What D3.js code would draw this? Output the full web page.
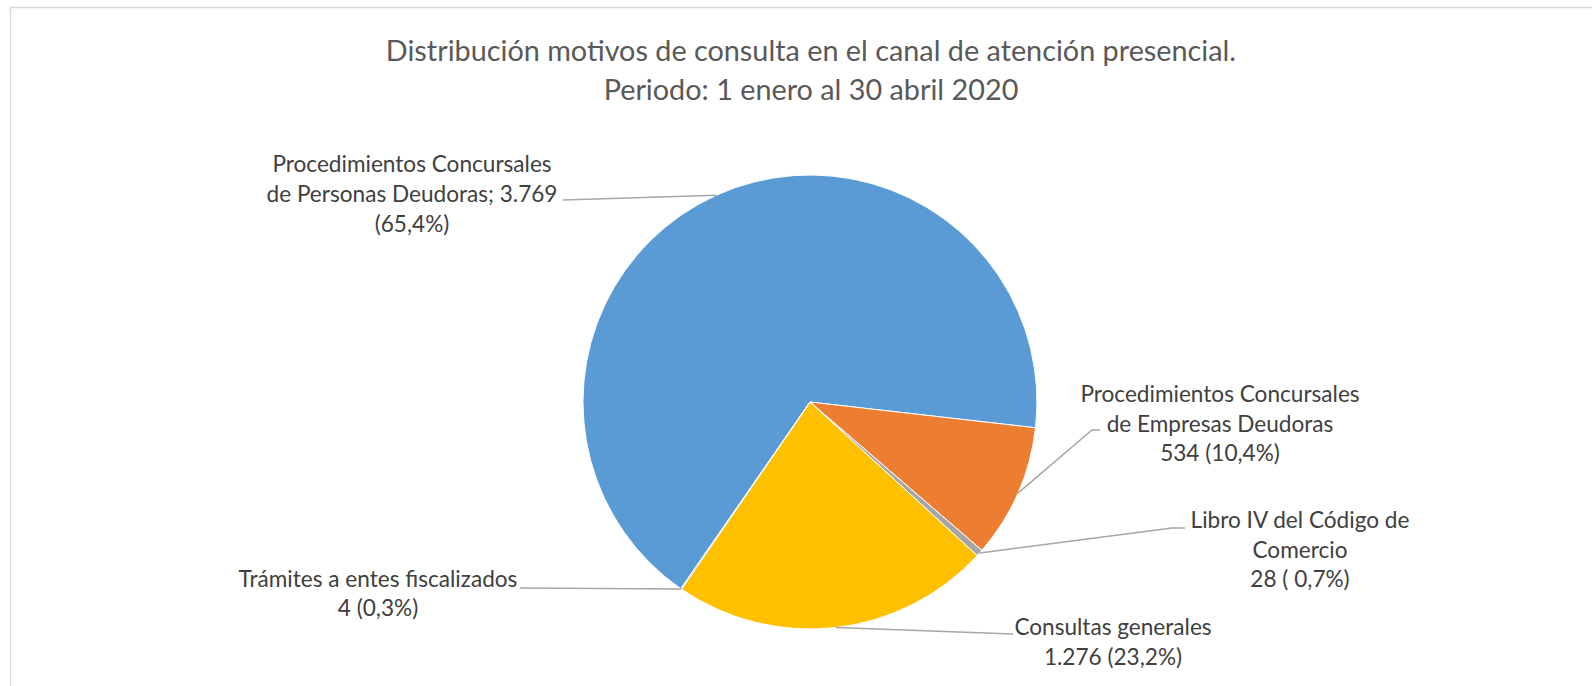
<!DOCTYPE html>
<html>
<head>
<meta charset="utf-8">
<script src="https://cdn.jsdelivr.net/npm/d3@7"></script>
<style>
  html, body { margin: 0; padding: 0; background: #ffffff; }
  svg { display: block; }
</style>
</head>
<body>
<svg id="chart" width="1592" height="686"></svg>
<script>
// ---- data ----
const categories = [
  "Procedimientos Concursales de Personas Deudoras",
  "Procedimientos Concursales de Empresas Deudoras",
  "Libro IV del Código de Comercio",
  "Consultas generales",
  "Trámites a entes fiscalizados"
];
const values = [3769, 534, 28, 1276, 4];
const labelLines = [
  ["Procedimientos Concursales", "de Personas Deudoras; 3.769", "(65,4%)"],
  ["Procedimientos Concursales", "de Empresas Deudoras", "534 (10,4%)"],
  ["Libro IV del Código de", "Comercio", "28 ( 0,7%)"],
  ["Consultas generales", "1.276 (23,2%)"],
  ["Trámites a entes fiscalizados", "4 (0,3%)"]
];
const titleLines = [
  "Distribución motivos de consulta en el canal de atención presencial.",
  "Periodo: 1 enero al 30 abril 2020"
];
const colors = ["#5B9BD5", "#ED7D31", "#A5A5A5", "#FFC000", "#4472C4"];

// ---- layout ----
const W = 1592, H = 686;
const cx = 810, cy = 402, R = 227;
const startDeg = 214.7;
const labelLayout = [
  { x: 412, y: 172, step: 30, lead: [[563, 200]] },
  { x: 1220, y: 402, step: 29.5, lead: [[1100, 430], [1092, 430]] },
  { x: 1300, y: 528, step: 29.5, lead: [[1185, 528], [1172, 528]] },
  { x: 1113, y: 635, step: 29.5, lead: [[1013, 634]] },
  { x: 378, y: 587, step: 29, lead: [[520, 588]] }
];

const svg = d3.select("#chart");
const font = "Lato, 'Open Sans', 'DejaVu Sans', sans-serif";

// chart area border
svg.append("rect")
  .attr("x", 10.5).attr("y", 7.5)
  .attr("width", W + 20).attr("height", H + 20)
  .attr("fill", "#ffffff")
  .attr("stroke", "#d9d9d9").attr("stroke-width", 1.5);

// title
svg.append("g").selectAll("text")
  .data(titleLines)
  .join("text")
  .attr("x", cx + 1)
  .attr("y", (d, i) => 61 + i * 38.5)
  .attr("text-anchor", "middle")
  .attr("font-family", font)
  .attr("font-size", 28.8)
  .attr("fill", "#595959")
  .text(d => d);

// pie
const start = startDeg * Math.PI / 180;
const pie = d3.pie().sort(null).value(d => d)
  .startAngle(start).endAngle(start + 2 * Math.PI);
const arcs = pie(values);
const arc = d3.arc().innerRadius(0).outerRadius(R);

const g = svg.append("g").attr("transform", `translate(${cx},${cy})`);
g.selectAll("path")
  .data(arcs)
  .join("path")
  .attr("d", arc)
  .attr("fill", (d, i) => colors[i])
  .attr("stroke", "#ffffff")
  .attr("stroke-width", 1);

// leader lines
const edgePoint = d => {
  const a = (d.startAngle + d.endAngle) / 2;
  return [cx + R * Math.sin(a), cy - R * Math.cos(a)];
};
const line = d3.line();
svg.append("g").selectAll("path")
  .data(arcs)
  .join("path")
  .attr("d", (d, i) => line([...labelLayout[i].lead, edgePoint(d)]))
  .attr("fill", "none")
  .attr("stroke", "#A6A6A6")
  .attr("stroke-width", 1.5);

// labels
const lg = svg.append("g");
labelLines.forEach((lines, i) => {
  const L = labelLayout[i];
  lg.append("g").selectAll("text")
    .data(lines)
    .join("text")
    .attr("x", L.x)
    .attr("y", (d, j) => L.y + j * L.step)
    .attr("text-anchor", "middle")
    .attr("font-family", font)
    .attr("font-size", 22.6)
    .attr("fill", "#404040")
    .text(d => d);
});
</script>
</body>
</html>
